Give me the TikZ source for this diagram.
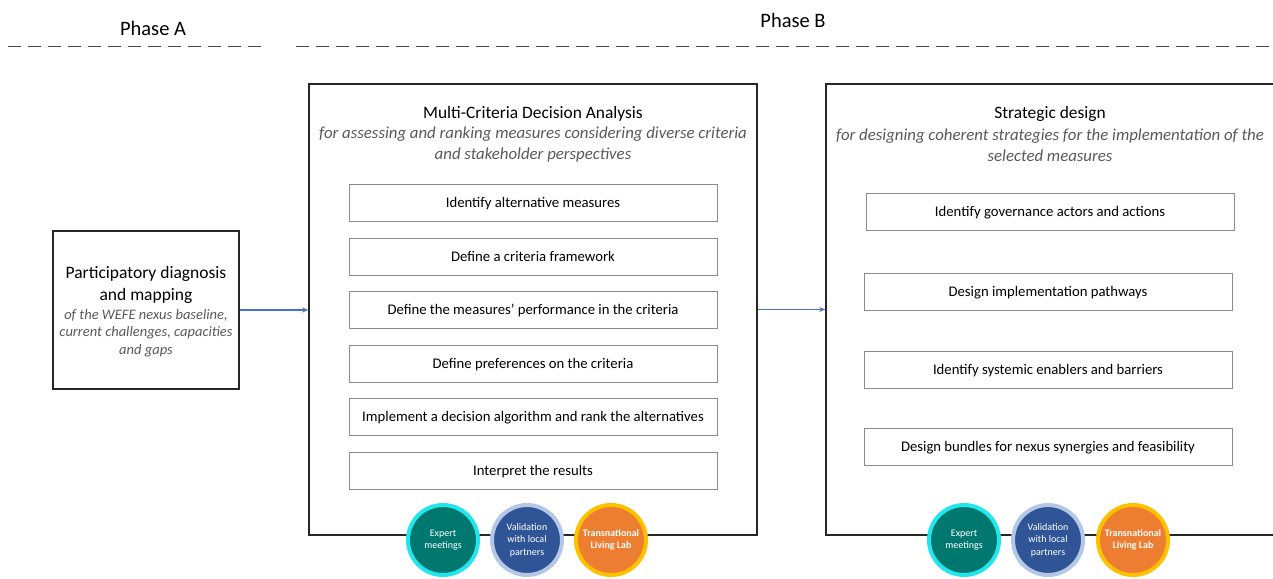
\documentclass[tikz,border=0pt]{standalone}
\usepackage{fontspec}
\setmainfont{Carlito}
\usetikzlibrary{arrows.meta}
\definecolor{frame}{HTML}{262626}
\definecolor{stepline}{HTML}{8C8C8C}
\definecolor{subtext}{HTML}{595959}
\definecolor{linkblue}{HTML}{4472C4}
\definecolor{tealfill}{HTML}{00786F}
\definecolor{tealring}{HTML}{22E6EE}
\definecolor{bluefill}{HTML}{2F5597}
\definecolor{bluering}{HTML}{B4C7E7}
\definecolor{orangefill}{HTML}{ED7D31}
\definecolor{orangering}{HTML}{FFC000}
\tikzset{
  phaseline/.style={draw=frame!85, line width=1pt, dash pattern=on 13pt off 7pt},
  phaselabel/.style={font=\fontsize{20.5}{24}\selectfont, text=black},
  bigbox/.style={draw=frame, line width=1.6pt, inner sep=0pt},
  stepbox/.style={draw=stepline, line width=0.8pt, minimum width=368pt, minimum height=37pt,
    inner sep=0pt, text height=10.8pt, text depth=1.6pt, font=\fontsize{14.7}{17}\selectfont},
  headline/.style={font=\fontsize{17.4}{20}\selectfont, text=black},
  subline/.style={font=\fontsize{16.8}{21}\selectfont\itshape, text=subtext, align=center},
  link/.style={draw=linkblue, line width=1.1pt, -{Stealth[length=6pt,width=5pt]}},
  badge/.style={circle, minimum size=70pt, inner sep=0pt, line width=4pt, align=center,
    text=white, font=\fontsize{10}{12.5}\selectfont},
}
\begin{document}
\begin{tikzpicture}[x=1pt, y=-1pt]
\useasboundingbox (0,0) rectangle (1273,578);

% phase headers
\node[phaselabel] (phA) at (153,28) {Phase A};
\node[phaselabel] (phB) at (793,20) {Phase B};
\coordinate (aL) at (8,47);  \coordinate (aR) at (266,47);
\coordinate (bL) at (296,47); \coordinate (bR) at (1273,47);
\draw[phaseline] (aL) -- (aR);
\draw[phaseline] (bL) -- (bR);

% phase A box
\node[bigbox, minimum width=186pt, minimum height=158pt] (diag) at (146,310) {};
\node[font=\fontsize{17.5}{22}\selectfont, align=center] (diagT) at (146,284.5)
  {Participatory diagnosis\\and mapping};
\node[font=\fontsize{14.5}{17.5}\selectfont\itshape, text=subtext, align=center] (diagS) at (146,333)
  {of the WEFE nexus baseline,\\current challenges, capacities\\and gaps};

% MCDA box
\node[bigbox, minimum width=448pt, minimum height=451pt] (mcda) at (533,309.5) {};
\node[headline] (mcdaT) at (533,114) {Multi-Criteria Decision Analysis};
\node[subline] (mcdaS) at (533,145)
  {for assessing and ranking measures considering diverse criteria\\and stakeholder perspectives};
\node[stepbox] (m1) at (533,202.5) {Identify alternative measures};
\node[stepbox] (m2) at (533,256.5) {Define a criteria framework};
\node[stepbox] (m3) at (533,309.5) {Define the measures’ performance in the criteria};
\node[stepbox] (m4) at (533,363.5) {Define preferences on the criteria};
\node[stepbox] (m5) at (533,416.5) {Implement a decision algorithm and rank the alternatives};
\node[stepbox] (m6) at (533,470.5) {Interpret the results};

% strategic design box
\node[bigbox, minimum width=456pt, minimum height=451pt] (strat) at (1054,309.5) {};
\node[headline] (stratT) at (1050,114) {Strategic design};
\node[subline] (stratS) at (1050,145)
  {for designing coherent strategies for the implementation of the\\selected measures};
\node[stepbox] (s1) at (1050,211.5) {Identify governance actors and actions};
\node[stepbox] (s2) at (1048,292) {Design implementation pathways};
\node[stepbox] (s3) at (1048,369.5) {Identify systemic enablers and barriers};
\node[stepbox] (s4) at (1048,446.5) {Design bundles for nexus synergies and feasibility};

% connectors
\draw[link] (diag.east) -- (diag.east -| mcda.west);
\draw[link] (mcda.east) -- (strat.west);

% participation badges
\node[badge, fill=tealfill, draw=tealring] (e1) at (443,540) {Expert\\meetings};
\node[badge, fill=bluefill, draw=bluering] (v1) at (527,540) {Validation\\with local\\partners};
\node[badge, fill=orangefill, draw=orangering, font=\fontsize{10}{12.5}\selectfont\bfseries] (t1) at (611,540) {Transnational\\Living Lab};
\node[badge, fill=tealfill, draw=tealring] (e2) at (964,540) {Expert\\meetings};
\node[badge, fill=bluefill, draw=bluering] (v2) at (1048,540) {Validation\\with local\\partners};
\node[badge, fill=orangefill, draw=orangering, font=\fontsize{10}{12.5}\selectfont\bfseries] (t2) at (1133,540) {Transnational\\Living Lab};
\end{tikzpicture}
\end{document}
